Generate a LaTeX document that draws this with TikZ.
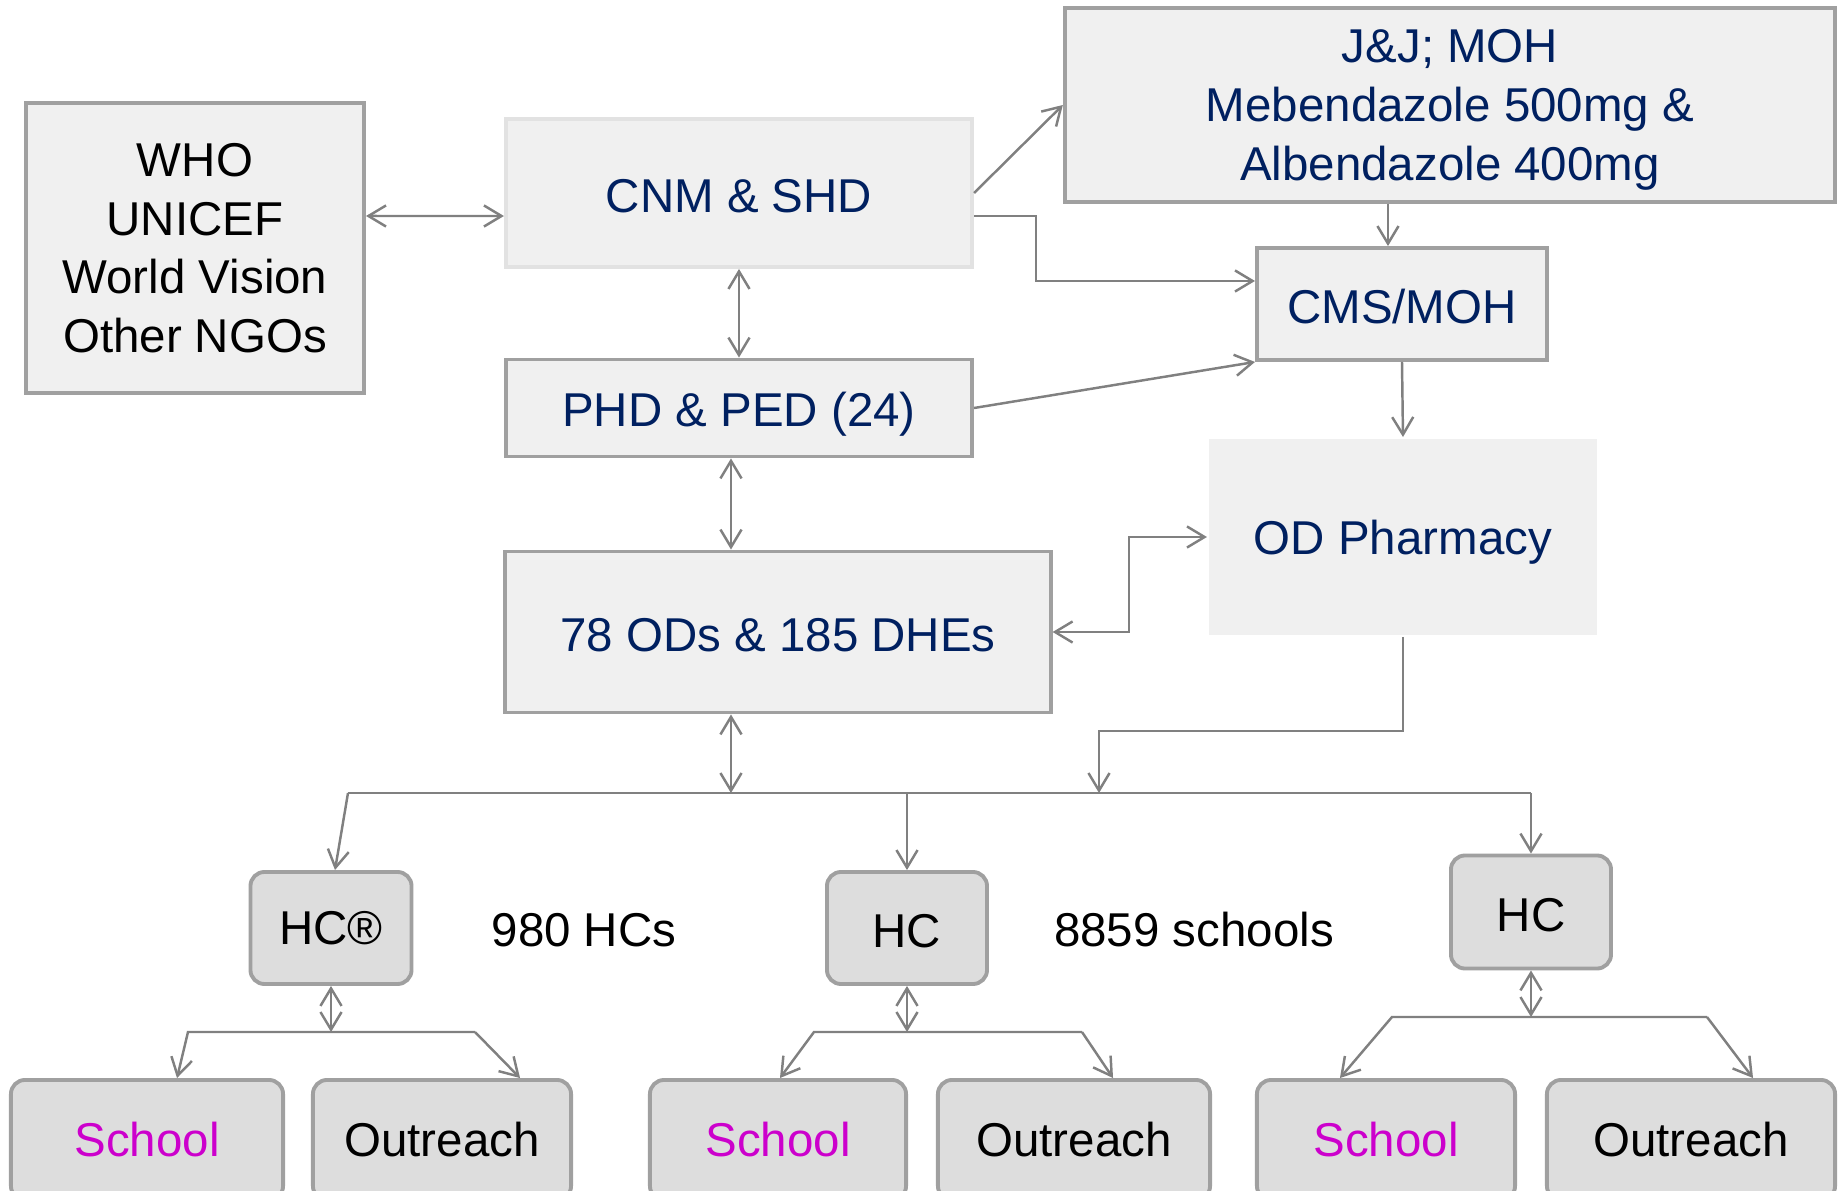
\documentclass[tikz,border=0pt]{standalone}
\usepackage{fontspec}
\setmainfont{Liberation Sans}
\usetikzlibrary{arrows.meta,positioning}
\definecolor{navy}{HTML}{002060}
\definecolor{schoolpink}{HTML}{CC00CC}
\definecolor{boxline}{HTML}{A0A0A0}
\definecolor{boxfill}{HTML}{F0F0F0}
\definecolor{hcfill}{HTML}{DDDDDD}
\definecolor{conn}{HTML}{808080}

\begin{document}
\begin{tikzpicture}[x=0.01cm,y=-0.01cm]
  \tikzset{ box/.style={draw=boxline,fill=boxfill,line width=1.1pt,inner sep=0pt,align=center,
      text=navy,font=\fontsize{13.5}{16.7}\selectfont},
    hc/.style={box,fill=hcfill,rounded corners=4pt,text=black},
    lbl/.style={inner sep=0pt,font=\fontsize{13.5}{16.7}\selectfont},
    ln/.style={draw=conn,line width=0.7pt,-{Straight Barb[length=5pt,width=6pt]}},
    lnn/.style={ln,{Straight Barb[length=5pt,width=6pt]}-{Straight Barb[length=5pt,width=6pt]}},
    plain/.style={draw=conn,line width=0.7pt},
  }
  \clip (0,0) rectangle (1841,1191);

  \node[box,minimum width=3.38cm,minimum height=2.90cm,text=black,text depth=-1.3pt] (who) at (195,248) {WHO\\UNICEF\\World Vision\\Other NGOs};
  \node[box,draw=boxline!30,minimum width=4.66cm,minimum height=1.48cm,text height=11.2pt] (cnm) at (739,193) {CNM \& SHD};
  \node[box,minimum width=7.70cm,minimum height=1.94cm,text depth=-1.4pt] (jj) at (1450,105) {J\&J; MOH\\Mebendazole 500mg \&\\Albendazole 400mg};
  \node[box,minimum width=2.90cm,minimum height=1.12cm,text height=11pt] (cms) at (1402,304) {CMS/MOH};
  \node[box,minimum width=4.66cm,minimum height=0.97cm,text height=13.3pt] (phd) at (739,408) {PHD \& PED (24)};
  \node[box,draw=none,minimum width=3.88cm,minimum height=1.96cm,text height=13pt] (od) at (1403,537) {OD Pharmacy};
  \node[box,minimum width=5.45cm,minimum height=1.61cm,text height=11.2pt] (ods) at (778,632) {78 ODs \& 185 DHEs};

  \node[hc,minimum width=1.61cm,minimum height=1.12cm] (hc1) at (331,928) {HC\textregistered};
  \node[hc,minimum width=1.60cm,minimum height=1.12cm,text height=11pt] (hc2) at (907,928) {HC};
  \node[hc,minimum width=1.60cm,minimum height=1.13cm,text height=11.5pt] (hc3) at (1531,912) {HC};
  \node[lbl] (nhc) at (584,930) {980 HCs};
  \node[lbl] (nsch) at (1194,930) {8859 schools};

  \node[hc,minimum width=2.72cm,minimum height=1.20cm,text=schoolpink] (sch1) at (147,1140) {School};
  \node[hc,minimum width=2.58cm,minimum height=1.20cm] (out1) at (442,1140) {Outreach};
  \node[hc,minimum width=2.56cm,minimum height=1.20cm,text=schoolpink] (sch2) at (778,1140) {School};
  \node[hc,minimum width=2.72cm,minimum height=1.20cm] (out2) at (1074,1140) {Outreach};
  \node[hc,minimum width=2.58cm,minimum height=1.20cm,text=schoolpink] (sch3) at (1386,1140) {School};
  \node[hc,minimum width=2.88cm,minimum height=1.20cm] (out3) at (1691,1140) {Outreach};

  % upper part of the chain
  \draw[lnn] ([yshift=0.32cm]who.east) -- ([yshift=-0.23cm]cnm.west);
  \draw[ln] (cnm.east) -- (jj.west);
  \draw[ln] ([yshift=-0.23cm]cnm.east) -- ++(62,0) |- ([yshift=0.23cm]cms.west);
  \coordinate (jjc) at ([xshift=-0.14cm]cms.north);
  \draw[ln] (jjc |- jj.south) -- (jjc);
  \draw[ln] (phd.east) -- (cms.south west);
  \draw[lnn] (cnm.south) -- (phd.north);
  \draw[ln] (cms.south) -- (od.north);
  \coordinate (pc) at ([xshift=-0.08cm]phd.south);
  \draw[lnn] (pc) -- (pc |- ods.north);
  \draw[lnn] (od.west) -- ++(-78,0) |- (ods.east);

  % the bus to the health centres
  \coordinate (busL) at (348,793);
  \coordinate (busR) at (1531,793);
  \coordinate (busod) at (1099,793);
  \draw[plain] (busL) -- (busR);
  \draw[ln] (od.south) -- ++(0,94) -| (busod);
  \draw[lnn] (pc |- ods.south) -- (pc |- busL);
  \draw[ln] (busL) -- ([xshift=0.04cm]hc1.north);
  \draw[ln] (hc2.north |- busL) -- (hc2.north);
  \draw[ln] (busR) -- (hc3.north);

  % schools and outreach under each HC
  \coordinate (b1) at (188,1032);
  \coordinate (b2) at (475,1032);
  \draw[lnn] (hc1.south) -- (hc1.south |- b1);
  \draw[ln] (b2) -- (b1) -- ([xshift=0.30cm]sch1.north);
  \draw[ln] (b2) -- ([xshift=0.78cm]out1.north);

  \coordinate (b3) at (814,1032);
  \coordinate (b4) at (1082,1032);
  \draw[lnn] (hc2.south) -- (hc2.south |- b3);
  \draw[ln] (b4) -- (b3) -- ([xshift=0.02cm]sch2.north);
  \draw[ln] (b4) -- ([xshift=0.39cm]out2.north);

  \coordinate (b5) at (1392,1017);
  \coordinate (b6) at (1707,1017);
  \draw[lnn] (hc3.south) -- (hc3.south |- b5);
  \draw[ln] (b6) -- (b5) -- ([xshift=-0.46cm]sch3.north);
  \draw[ln] (b6) -- ([xshift=0.62cm]out3.north);
\end{tikzpicture}
\end{document}
